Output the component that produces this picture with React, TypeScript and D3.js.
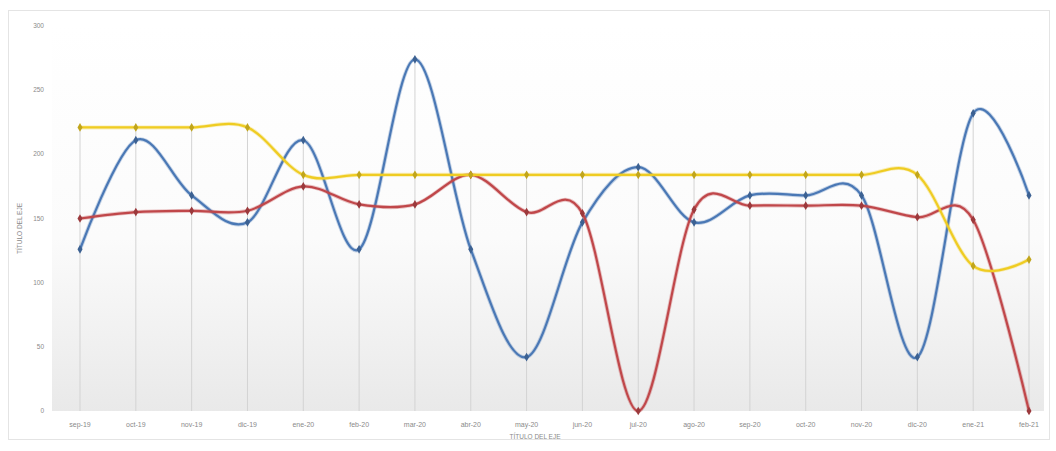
import React from "react";
import * as d3 from "d3";

const categories = ["sep-19","oct-19","nov-19","dic-19","ene-20","feb-20","mar-20","abr-20","may-20","jun-20","jul-20","ago-20","sep-20","oct-20","nov-20","dic-20","ene-21","feb-21"];
const blueValues = [126,211,168,147,211,126,274,126,42,147,190,147,168,168,168,42,232,168];
const redValues = [150,155,156,156,175,161,161,184,155,154,0,157,160,160,160,151,149,0];
const yellowValues = [221,221,221,221,184,184,184,184,184,184,184,184,184,184,184,184,113,118];
const yTicks = [0,50,100,150,200,250,300];

const series = [
  { name: "Serie 1", values: blueValues, color: "#4a78b5" },
  { name: "Serie 2", values: redValues, color: "#c0474a" },
  { name: "Serie 3", values: yellowValues, color: "#efcc22" },
];

export default function App() {
  const W = 1056, H = 451;
  const plotL = 52, plotR = 1044, plotT = 26, plotB = 411;
  const x = d3.scalePoint<string>().domain(categories).range([80, 1029]);
  const y = d3.scaleLinear().domain([0, 300]).range([plotB, plotT]);
  const line = d3.line<number>()
    .x((_, i) => x(categories[i]) as number)
    .y((d) => y(d))
    .curve(d3.curveCardinal.tension(0));
  const diamond = d3.symbol().type(d3.symbolDiamond).size(22)();
  const maxPerCat = categories.map((_, i) => d3.max(series, (s) => s.values[i]) as number);

  return (
    <svg width={W} height={H} style={{ position: "absolute", left: 0, top: 0, display: "block" }}>
      <defs>
        <linearGradient id="bg" x1="0" y1="0" x2="0" y2="1">
          <stop offset="0" stopColor="#ffffff" />
          <stop offset="0.55" stopColor="#fbfbfb" />
          <stop offset="1" stopColor="#e9e9e9" />
        </linearGradient>
        <filter id="glow" x="-5%" y="-5%" width="110%" height="110%">
          <feGaussianBlur stdDeviation="0.7" />
        </filter>
      </defs>
      <rect x={0} y={0} width={W} height={H} fill="#ffffff" />
      <rect x={8.5} y={10.5} width={1041} height={429} fill="none" stroke="#e4e4e4" />
      <rect x={plotL} y={plotT} width={plotR - plotL} height={plotB - plotT} fill="url(#bg)" />
      {categories.map((c, i) => (
        <line key={c} x1={x(c)} x2={x(c)} y1={y(maxPerCat[i])} y2={plotB} stroke="#d3d3d3" strokeWidth={1} />
      ))}
      {yTicks.map((t) => (
        <text key={t} x={44} y={y(t) + 2} textAnchor="end" fontFamily="Liberation Sans, sans-serif" fontSize={6.5} fill="#8a8a8a">{t}</text>
      ))}
      {categories.map((c) => (
        <text key={c} x={x(c)} y={427} textAnchor="middle" fontFamily="Liberation Sans, sans-serif" fontSize={7} fill="#8a8a8a">{c}</text>
      ))}
      <text transform={`translate(22,${(plotT + plotB) / 2 + 10}) rotate(-90)`} textAnchor="middle" fontFamily="Liberation Sans, sans-serif" fontSize={6.5} fill="#8a8a8a">TÍTULO DEL EJE</text>
      <text x={535} y={439} textAnchor="middle" fontFamily="Liberation Sans, sans-serif" fontSize={6.5} fill="#8a8a8a">TÍTULO DEL EJE</text>
      {series.map((s) => (
        <g key={s.name}>
          <path d={line(s.values) || ""} fill="none" stroke={s.color} strokeWidth={4} opacity={0.3} filter="url(#glow)" />
          <path d={line(s.values) || ""} fill="none" stroke={s.color} strokeWidth={2.2} />
          {s.values.map((v, i) => (
            <path key={i} d={diamond || ""} transform={`translate(${x(categories[i])},${y(v)})`} fill={d3.color(s.color)!.darker(0.6).toString()} />
          ))}
        </g>
      ))}
    </svg>
  );
}
